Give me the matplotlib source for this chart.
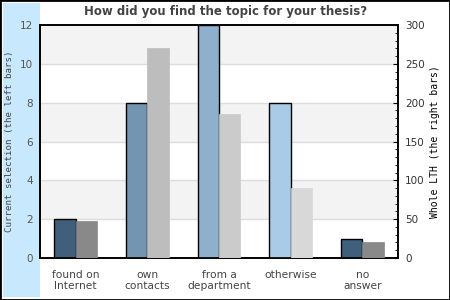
import numpy as np
import matplotlib
matplotlib.use("Agg")
import matplotlib.pyplot as plt
from matplotlib.patches import Rectangle
from matplotlib.ticker import MultipleLocator

categories = ["found on\nInternet", "own\ncontacts", "from a\ndepartment", "otherwise", "no\nanswer"]
current = [2, 8, 12, 8, 1]          # left bars, left axis
whole_lth = [48, 270, 185, 90, 20]  # right bars, right axis
left_colors = ["#3f5f7c", "#7395b1", "#8fb0cc", "#a9cbe7", "#3f5f7c"]
right_colors = ["#898989", "#bdbdbd", "#cbcbcb", "#d8d8d8", "#898989"]

fig = plt.figure(figsize=(4.5, 3), dpi=100)

# light blue band on the left and outer frame
fig.patches.append(Rectangle((3/450, 3/300), 37/450, 294/300, transform=fig.transFigure,
                             facecolor="#c8e8fd", edgecolor="none", zorder=-2))
fig.patches.append(Rectangle((0, 0), 1, 1, transform=fig.transFigure, fill=False,
                             edgecolor="black", linewidth=2, zorder=-1))

ax = fig.add_axes([40/450, 42/300, 358/450, 233/300])
ax2 = ax.twinx()

x = np.arange(len(categories))
w = 0.3

# alternating bands + grid
ax.set_ylim(0, 12)
for lo in [2, 6, 10]:
    ax.axhspan(lo, lo + 2, color="#f3f3f3", zorder=0, lw=0)
for yv in range(2, 12, 2):
    ax.axhline(yv, color="#dcdcdc", lw=1, zorder=0.5)

ax.bar(x - w/2, current, width=w, color=left_colors, edgecolor="black", linewidth=1, zorder=3)
ax2.bar(x + w/2, whole_lth, width=w, color=right_colors, edgecolor=right_colors, linewidth=0.5, zorder=3)

ax.set_xlim(-0.5, len(categories) - 0.5)
ax.set_xticks(x)
ax.set_xticklabels(categories, fontsize=7.7, color="#444444", linespacing=1.1)
ax.tick_params(axis="x", length=0, pad=9)
ax.set_yticks(range(0, 13, 2))
ax.tick_params(axis="y", length=0, pad=5, labelsize=7.5, labelcolor="#555555")
ax.set_ylabel("Current selection (the left bars)", family="DejaVu Sans Mono",
              fontsize=6.6, color="#444444")
ax.yaxis.set_label_coords(-26/358, 0.5)

ax2.set_ylim(0, 300)
ax2.yaxis.set_major_locator(MultipleLocator(50))
ax2.yaxis.set_minor_locator(MultipleLocator(10))
ax2.tick_params(axis="y", which="major", direction="in", length=3.5, pad=5,
                labelsize=7.5, labelcolor="#333333")
ax2.tick_params(axis="y", which="minor", direction="in", length=2.5)
ax2.set_ylabel("Whole LTH (the right bars)", family="DejaVu Sans Mono",
               fontsize=7, color="black")
ax2.yaxis.set_label_coords(1 + 32/358, 0.5)

ax2.set_zorder(ax.get_zorder() + 1)
ax2.patch.set_visible(False)
for a in (ax, ax2):
    for s in a.spines.values():
        s.set_linewidth(1.2)
        s.set_color("black")

fig.text(226/450, 288/300, "How did you find the topic for your thesis?", ha="center", va="center",
         fontsize=8.5, fontweight="bold", color="#444444")

fig.savefig("out.png", dpi=100)
